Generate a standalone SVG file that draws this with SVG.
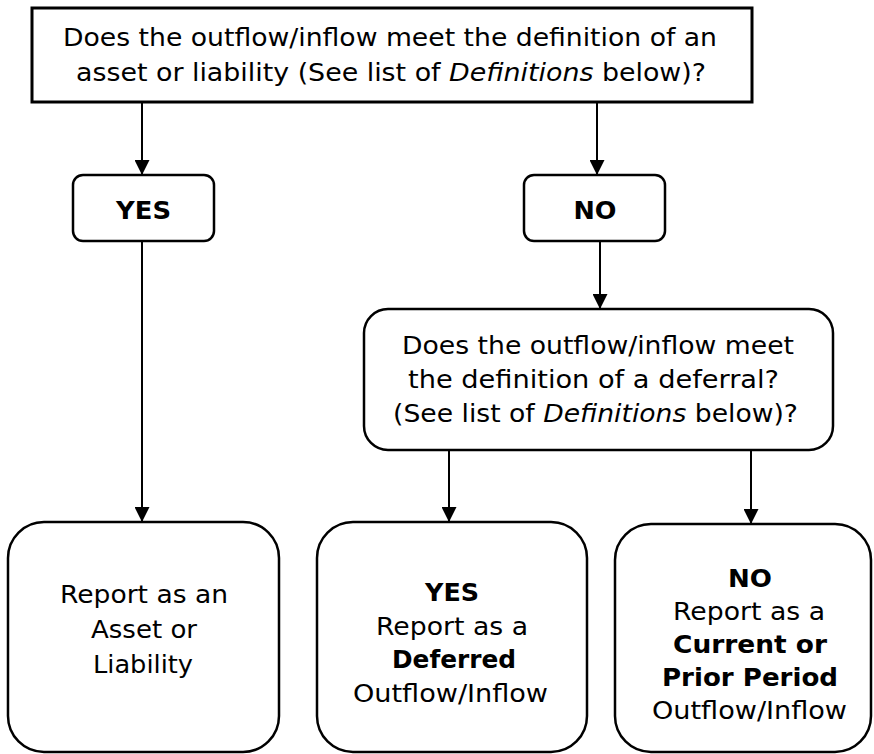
<svg xmlns="http://www.w3.org/2000/svg" width="874" height="754" viewBox="0 0 874 754">
<style>
  .box { fill: #ffffff; stroke: #000000; stroke-width: 2.5; }
  .top { fill: #ffffff; stroke: #000000; stroke-width: 3; }
  .t { font-family: "DejaVu Sans", Verdana, sans-serif; font-size: 24px; fill: #000000; text-anchor: middle; }
  .b { font-weight: bold; }
  .i { font-style: italic; }
  .conn { stroke: #000000; stroke-width: 2; fill: none; marker-end: url(#arrow); }
</style>
<defs>
  <marker id="arrow" viewBox="0 0 15 15" refX="15" refY="7.5" markerWidth="15" markerHeight="15" markerUnits="userSpaceOnUse" orient="auto">
    <path d="M0,0 L15,7.5 L0,15 Z" fill="#000000"/>
  </marker>
</defs>
<rect width="874" height="754" fill="#ffffff"/>

<g id="connectors">
  <line class="conn" x1="142" y1="102" x2="142" y2="175"/>
  <line class="conn" x1="597" y1="102" x2="597" y2="175"/>
  <line class="conn" x1="142" y1="241" x2="142" y2="522"/>
  <line class="conn" x1="600" y1="241" x2="600" y2="309"/>
  <line class="conn" x1="449" y1="450" x2="449" y2="522"/>
  <line class="conn" x1="751" y1="450" x2="751" y2="524"/>
</g>

<g id="question1">
  <rect class="top" x="32" y="8" width="720" height="94"/>
  <text class="t" x="390" y="46" textLength="654" lengthAdjust="spacingAndGlyphs">Does the outflow/inflow meet the definition of an</text>
  <text class="t" x="391" y="81" textLength="630" lengthAdjust="spacingAndGlyphs">asset or liability (See list of <tspan class="i">Definitions</tspan> below)?</text>
</g>

<g id="yes1">
  <rect class="box" x="73" y="175" width="141" height="66" rx="10" ry="10"/>
  <text class="t b" x="143.5" y="219" textLength="55" lengthAdjust="spacingAndGlyphs">YES</text>
</g>

<g id="no1">
  <rect class="box" x="524" y="175" width="141" height="66" rx="10" ry="10"/>
  <text class="t b" x="595" y="219" textLength="43" lengthAdjust="spacingAndGlyphs">NO</text>
</g>

<g id="question2">
  <rect class="box" x="364" y="309" width="469" height="141" rx="24" ry="24"/>
  <text class="t" x="598" y="354" textLength="392" lengthAdjust="spacingAndGlyphs">Does the outflow/inflow meet</text>
  <text class="t" x="593.5" y="388" textLength="371" lengthAdjust="spacingAndGlyphs">the definition of a deferral?</text>
  <text class="t" x="595.5" y="422" textLength="405" lengthAdjust="spacingAndGlyphs">(See list of <tspan class="i">Definitions</tspan> below)?</text>
</g>

<g id="asset">
  <rect class="box" x="8" y="522" width="271" height="230" rx="36" ry="36"/>
  <text class="t" x="144" y="603" textLength="168" lengthAdjust="spacingAndGlyphs">Report as an</text>
  <text class="t" x="144" y="638" textLength="106" lengthAdjust="spacingAndGlyphs">Asset or</text>
  <text class="t" x="143" y="673" textLength="100" lengthAdjust="spacingAndGlyphs">Liability</text>
</g>

<g id="deferred">
  <rect class="box" x="317" y="522" width="270" height="230" rx="36" ry="36"/>
  <text class="t b" x="452" y="601" textLength="54" lengthAdjust="spacingAndGlyphs">YES</text>
  <text class="t" x="452" y="635" textLength="152" lengthAdjust="spacingAndGlyphs">Report as a</text>
  <text class="t b" x="454" y="668" textLength="124" lengthAdjust="spacingAndGlyphs">Deferred</text>
  <text class="t" x="450.5" y="702" textLength="195" lengthAdjust="spacingAndGlyphs">Outflow/Inflow</text>
</g>

<g id="current">
  <rect class="box" x="615" y="524" width="256" height="228" rx="36" ry="36"/>
  <text class="t b" x="750" y="587" textLength="44" lengthAdjust="spacingAndGlyphs">NO</text>
  <text class="t" x="749" y="620" textLength="152" lengthAdjust="spacingAndGlyphs">Report as a</text>
  <text class="t b" x="750" y="653" textLength="154" lengthAdjust="spacingAndGlyphs">Current or</text>
  <text class="t b" x="750" y="686" textLength="176" lengthAdjust="spacingAndGlyphs">Prior Period</text>
  <text class="t" x="749.5" y="719" textLength="195" lengthAdjust="spacingAndGlyphs">Outflow/Inflow</text>
</g>
</svg>
